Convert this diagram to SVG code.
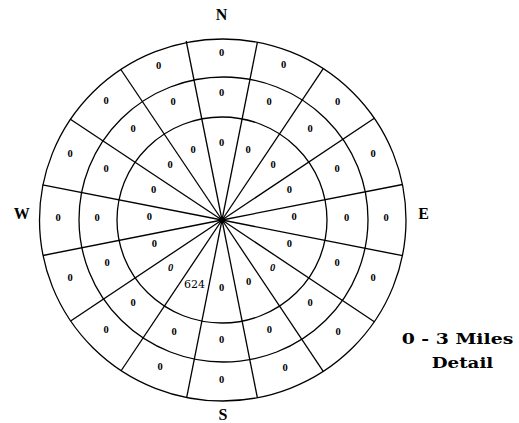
<svg xmlns="http://www.w3.org/2000/svg" width="519" height="423" viewBox="0 0 519 423">
<style>
.ring{fill:none;stroke:#000;stroke-width:1.3}
.ray{stroke:#000;stroke-width:1.3}
.z{font-family:"Liberation Serif","Times New Roman",serif;font-size:10.5px;font-weight:bold;text-anchor:middle;fill:#000}
.zi{font-style:italic}
.dir{font-family:"Liberation Serif","Times New Roman",serif;font-size:16px;font-weight:bold;text-anchor:middle;fill:#000}
.cap{font-family:"DejaVu Serif","Liberation Serif",serif;font-size:14.5px;font-weight:bold;fill:#000}
.num{font-family:"DejaVu Serif","Liberation Serif",serif;font-size:11px;text-anchor:middle;fill:#000}
</style>
<rect width="519" height="423" fill="#fff"/>
<g id="rings">
<ellipse class="ring" cx="222.75" cy="220" rx="183.25" ry="181"/>
<ellipse class="ring" cx="223.5" cy="219.5" rx="144.5" ry="142.5"/>
<ellipse class="ring" cx="222" cy="220" rx="105" ry="103"/>
</g>
<g id="connectors">
<line class="ray" x1="222" y1="220" x2="257.4" y2="42.1"/>
<line class="ray" x1="222" y1="220" x2="323.4" y2="68.3"/>
<line class="ray" x1="222" y1="220" x2="374.7" y2="118"/>
<line class="ray" x1="222" y1="220" x2="402.6" y2="184.5"/>
<line class="ray" x1="222" y1="220" x2="402.6" y2="255.7"/>
<line class="ray" x1="222" y1="220" x2="374.7" y2="322"/>
<line class="ray" x1="222" y1="220" x2="323.4" y2="371.7"/>
<line class="ray" x1="222" y1="220" x2="257.4" y2="397.9"/>
<line class="ray" x1="222" y1="220" x2="186.7" y2="397.3"/>
<line class="ray" x1="222" y1="220" x2="121.3" y2="370.5"/>
<line class="ray" x1="222" y1="220" x2="71" y2="320.7"/>
<line class="ray" x1="222" y1="220" x2="43" y2="255.5"/>
<line class="ray" x1="222" y1="220" x2="42.5" y2="184.8"/>
<line class="ray" x1="222" y1="220" x2="70" y2="119"/>
<line class="ray" x1="222" y1="220" x2="120.5" y2="69"/>
<line class="ray" x1="222" y1="220" x2="186.2" y2="41"/>
</g>
<g id="center"><circle cx="222" cy="220" r="3.2" fill="#000"/></g>
<g id="outer-ring-values">
<text class="z" x="221.5" y="56">0</text>
<text class="z" x="283.5" y="68.4">0</text>
<text class="z" x="337.5" y="105.4">0</text>
<text class="z" x="373" y="157.4">0</text>
<text class="z" x="386" y="220.6">0</text>
<text class="z" x="373" y="281.4">0</text>
<text class="z" x="338" y="335.4">0</text>
<text class="z" x="285" y="370.6">0</text>
<text class="z" x="221.7" y="382.6">0</text>
<text class="z" x="160" y="370">0</text>
<text class="z" x="106" y="333.4">0</text>
<text class="z" x="70" y="281.4">0</text>
<text class="z" x="58" y="220.6">0</text>
<text class="z" x="70" y="157.4">0</text>
<text class="z" x="106" y="104.4">0</text>
<text class="z" x="158.5" y="69.4">0</text>
</g>
<g id="middle-ring-values">
<text class="z" x="221.7" y="96.4">0</text>
<text class="z" x="269" y="105.4">0</text>
<text class="z" x="310" y="132.4">0</text>
<text class="z" x="337" y="172.4">0</text>
<text class="z" x="346.7" y="220.6">0</text>
<text class="z" x="337" y="266.4">0</text>
<text class="z" x="310" y="306.4">0</text>
<text class="z" x="269.3" y="333.4">0</text>
<text class="z" x="221.7" y="343.4">0</text>
<text class="z" x="174" y="335">0</text>
<text class="z" x="133" y="306.4">0</text>
<text class="z" x="107" y="266.4">0</text>
<text class="z" x="97" y="220.6">0</text>
<text class="z" x="106" y="172.4">0</text>
<text class="z" x="133" y="132.4">0</text>
<text class="z" x="173" y="105.4">0</text>
</g>
<g id="inner-ring-values">
<text class="z" x="221.7" y="146.4">0</text>
<text class="z" x="248" y="153.4">0</text>
<text class="z" x="273" y="168.4">0</text>
<text class="z" x="289.3" y="192.7">0</text>
<text class="z" x="294" y="220.1">0</text>
<text class="z" x="289.3" y="247.4">0</text>
<text class="z zi" x="272.7" y="270.7">0</text>
<text class="z" x="248.5" y="285.1">0</text>
<text class="z" x="221.7" y="290.7">0</text>
<text class="num" x="194.5" y="288.4">624</text>
<text class="z zi" x="170.7" y="270.7">0</text>
<text class="z" x="154.3" y="247.4">0</text>
<text class="z" x="149.3" y="220.1">0</text>
<text class="z" x="153.5" y="192.7">0</text>
<text class="z" x="170" y="168.4">0</text>
<text class="z" x="193" y="153.4">0</text>
</g>
<g id="directions">
<text class="dir" x="221.5" y="20">N</text>
<text class="dir" x="423.7" y="218.5">E</text>
<text class="dir" x="223" y="420">S</text>
<text class="dir" x="21.7" y="218.5">W</text>
</g>
<g id="caption">
<text class="cap" x="401.7" y="343.5" textLength="111.6" lengthAdjust="spacingAndGlyphs">0 - 3 Miles</text>
<text class="cap" x="431.7" y="368.3" textLength="61.6" lengthAdjust="spacingAndGlyphs">Detail</text>
</g>
</svg>
